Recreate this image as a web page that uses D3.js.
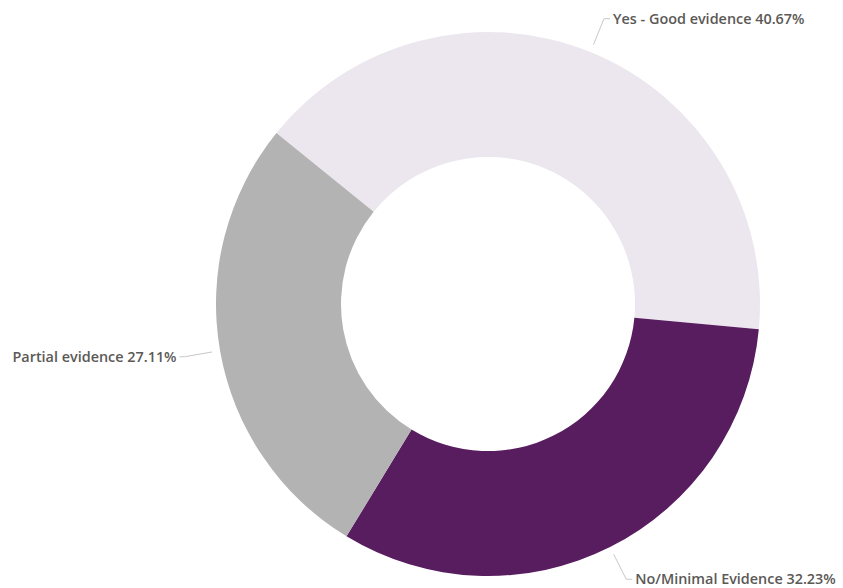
<!DOCTYPE html>
<html>
<head>
<meta charset="utf-8">
<script src="https://cdn.jsdelivr.net/npm/d3@7"></script>
<style>
  body { margin: 0; background: #fff; }
  text { font-family: "Open Sans", "Noto Sans", sans-serif; font-weight: 600; font-size: 14.4px; fill: #5B5956; }
</style>
</head>
<body>
<svg id="chart" width="843" height="588"></svg>
<script>
let width = 843;
let height = 588;

// slice data
let categories = ["Yes - Good evidence", "No/Minimal Evidence", "Partial evidence"];
let values = [40.67, 32.23, 27.11];
let colors = ["#ECE7EE", "#581D5F", "#B3B3B3"];

let cx = 488;
let cy = 304;
let outerR = 272;
let innerR = 147;
let startAngle = -51.07 * Math.PI / 180;

let data = categories.map((c, i) => ({ name: c, value: values[i], color: colors[i] }));

let pie = d3.pie()
  .value(d => d.value)
  .sort(null)
  .startAngle(startAngle)
  .endAngle(startAngle + 2 * Math.PI);

let arc = d3.arc().innerRadius(innerR).outerRadius(outerR);
let arcs = pie(data);

let svg = d3.select("#chart");
let g = svg.append("g").attr("transform", `translate(${cx},${cy})`);

g.selectAll("path.slice")
  .data(arcs)
  .enter()
  .append("path")
  .attr("class", "slice")
  .attr("fill", d => d.data.color)
  .attr("d", arc);

// leader lines + labels
const polar = (a, r) => [r * Math.sin(a), -r * Math.cos(a)];

arcs.forEach(d => {
  let mid = (d.startAngle + d.endAngle) / 2;
  let p0 = polar(mid, outerR + 8);
  let p1 = polar(mid, outerR + 36);
  let right = Math.sin(mid) > 0;
  let p2 = [p1[0] + (right ? 6 : -5), p1[1]];

  g.append("polyline")
    .attr("points", [p0, p1, p2].map(p => p.join(",")).join(" "))
    .attr("fill", "none")
    .attr("stroke", "#C8C8C8")
    .attr("stroke-width", 1);

  g.append("text")
    .attr("x", p2[0] + (right ? 3 : -3))
    .attr("y", p2[1])
    .attr("dy", "0.35em")
    .attr("text-anchor", right ? "start" : "end")
    .text(`${d.data.name} ${d.data.value.toFixed(2)}%`);
});
</script>
</body>
</html>
